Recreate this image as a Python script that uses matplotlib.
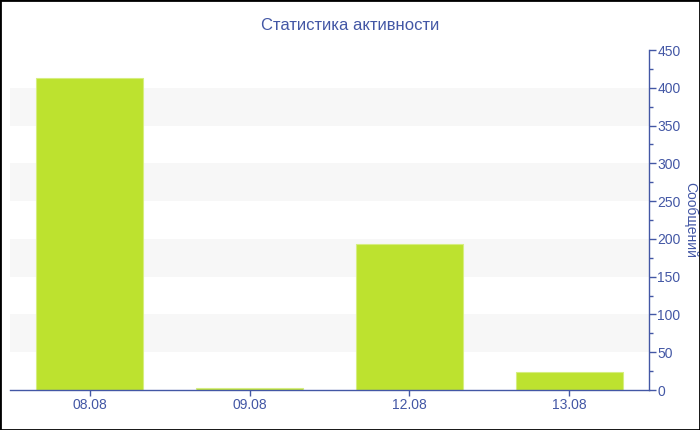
import matplotlib
matplotlib.use("Agg")
import matplotlib.pyplot as plt
from matplotlib.ticker import MultipleLocator

plt.rcParams['font.family'] = ['Liberation Sans', 'DejaVu Sans']

categories = ["08.08", "09.08", "12.08", "13.08"]
values = [413, 3, 193, 24]
title = "Статистика активности"
ylabel = "Сообщений"

axis_color = "#4357a5"
bar_color = "#bde22f"

fig = plt.figure(figsize=(7, 4.3), dpi=100)
ax = fig.add_axes([10/700, 40/430, 639/700, 340/430])

ax.set_xlim(-0.5, len(categories) - 0.5)
ax.set_ylim(0, 450)

# alternating bands
for lo in range(50, 450, 100):
    ax.axhspan(lo, lo + 50, color="#f7f7f7", zorder=0, lw=0)

x = list(range(len(categories)))
ax.bar(x, values, width=0.67, color=bar_color, edgecolor="#d6ee80", linewidth=0.8, zorder=2)

for s in ["top", "left"]:
    ax.spines[s].set_visible(False)
ax.spines["right"].set_color(axis_color)
ax.spines["bottom"].set_color(axis_color)
ax.spines["right"].set_linewidth(1)
ax.spines["bottom"].set_linewidth(1)

ax.yaxis.tick_right()
ax.yaxis.set_label_position("right")
ax.yaxis.set_major_locator(MultipleLocator(50))
ax.yaxis.set_minor_locator(MultipleLocator(25))
ax.tick_params(axis="y", which="major", colors=axis_color, labelcolor=axis_color,
               length=5, width=1, direction="out", labelsize=10, pad=1)
ax.tick_params(axis="y", which="minor", colors=axis_color, length=3, width=1, direction="out")
ax.set_xticks(x)
ax.set_xticklabels(categories)
ax.tick_params(axis="x", colors=axis_color, labelcolor=axis_color, length=4, width=1,
               labelsize=10, pad=2)
ax.set_ylabel(ylabel, color=axis_color, rotation=270, labelpad=12, fontsize=10)
ax.set_facecolor("white")

fig.text(0.5, 1 - 25/430, title, ha="center", va="center", color=axis_color, fontsize=12)

# figure border
fig.patches.append(plt.Rectangle((0, 0), 1, 1, transform=fig.transFigure,
                                 fill=False, edgecolor="black", linewidth=2))

fig.savefig("out.png", dpi=100)
